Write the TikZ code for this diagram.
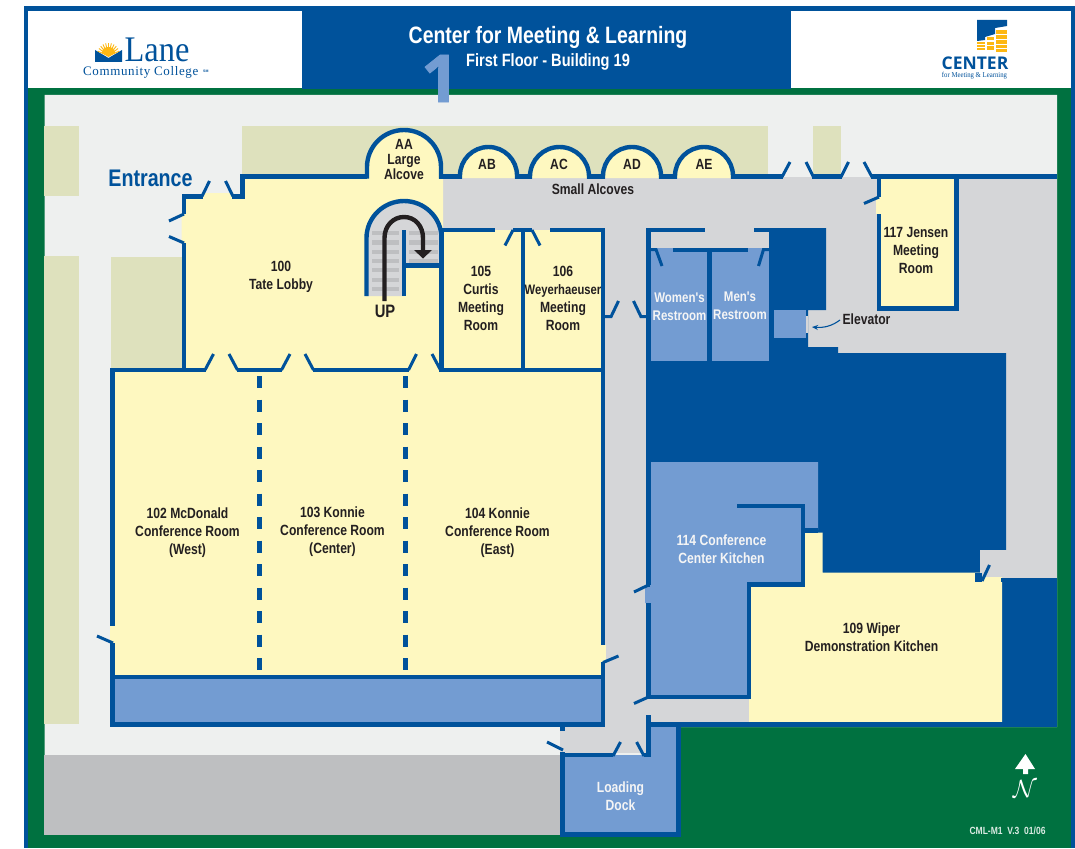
\documentclass[tikz,border=0pt]{standalone}
\usepackage{fontspec}
\setmainfont{Liberation Sans}
\newfontfamily\nar[FakeStretch=0.82]{Liberation Sans}
\newfontfamily\serifnar[FakeStretch=0.9]{Liberation Serif}
\newfontfamily\serifwide[LetterSpace=4.8]{Liberation Serif}
\newfontfamily\onefont[FakeBold=1.2]{Open Sans}
\newfontfamily\ctr{Open Sans}
\usetikzlibrary{arrows.meta}
\definecolor{dk}{HTML}{00529B}
\definecolor{grn}{HTML}{007140}
\definecolor{yel}{HTML}{FEF8C0}
\definecolor{lb}{HTML}{739CD2}
\definecolor{oli}{HTML}{DEE1BD}
\definecolor{lite}{HTML}{EEF0EF}
\definecolor{gry}{HTML}{D5D6D8}
\definecolor{dgry}{HTML}{BEBFC1}
\definecolor{ink}{HTML}{231F20}
\definecolor{gold}{HTML}{FDB813}
\tikzset{
 wall/.style={draw=dk,line width=4.4pt,line join=miter,line cap=butt},
 flap/.style={draw=dk,line width=3pt,line join=miter,line cap=butt},
 lab/.style={inner sep=0pt,align=center,text=ink,font=\nar\bfseries\fontsize{14.8}{18}\selectfont},
 wlab/.style={lab,text=white!96!black},
}
\begin{document}
\begin{tikzpicture}[x=1pt,y=-1pt]
\useasboundingbox (0,0) rectangle (1075,848);
% frame and header
\fill[white] (0,0) rectangle (1075,848);
\fill[dk] (24,6) rectangle (1075,848);
\fill[grn] (28,88) rectangle (1071,848);
\fill[white] (28,11) rectangle (302,88);
\fill[white] (791,11) rectangle (1071,88);
\fill[dk] (302,11) rectangle (791,89.5);
% ground
\fill[lite] (44.5,95) -- (1057,95) -- (1057,727) -- (680,727) -- (680,755) -- (44.5,755) -- cycle;
\fill[dgry] (44,755) rectangle (562,835);
\fill[oli] (44,126) rectangle (79,196);
\fill[oli] (44,256) rectangle (79,724);
\fill[oli] (111,257) rectangle (184,370);
\fill[oli] (242,126) rectangle (768,177);
\fill[oli] (813,126) rectangle (841,177);
% corridors
\fill[gry] (443,176.5) rectangle (1057,578);
\fill[gry] (600,230) rectangle (648,727);
\fill[gry] (559.5,725) rectangle (648,753);
\fill[gry] (648,695) rectangle (752,724);
% dark core
\fill[dk] (769,228) -- (826,228) -- (826,310) -- (808,310) -- (808,347) -- (838,347) -- (838,353) -- (1006,353) -- (1006,550) -- (980,550) -- (980,590) -- (648,590) -- (648,353) -- (769,353) -- cycle;
\fill[gry] (980,550) rectangle (1057,578);
\fill[dk] (1002,578) rectangle (1057,727);
% rooms fills
\fill[yel] (184,196) -- (200,196) -- (205,193) -- (230,193) -- (235,196) -- (242,196) -- (242,177) -- (443,177) -- (443,370) -- (184,370) -- (184,243) -- (181.5,240) -- (181.5,216) -- (184,214) -- cycle;
\fill[yel] (443,230) rectangle (603,370);
\fill[yel] (114,370) rectangle (603,677);
\fill[yel] (109.5,626) rectangle (114,643);
\fill[yel] (603,645) rectangle (606,662);
\fill[yel] (877,178) rectangle (955,307);
\fill[yel] (875.5,197) rectangle (880,214);
\fill[lb] (112,677) rectangle (603,724);
\fill[lb] (651,248) rectangle (707,361);
\fill[lb] (712,248) rectangle (769,361);
\fill[lb] (773.5,310) rectangle (805.5,337.5);
\fill[gry] (805.5,316) rectangle (808,333);
\fill[lb] (650,462) -- (818,462) -- (818,530) -- (804,530) -- (804,586) -- (749,586) -- (749,695) -- (650,695) -- (650,603) -- (645,603) -- (645,587) -- (650,587) -- cycle;
\fill[yel] (749,722) -- (749,585) -- (804,585) -- (804,532.7) -- (822.6,532.7) -- (822.6,572.7) -- (980,572.7) -- (980,577) -- (1002,577) -- (1002,722) -- cycle;
\fill[lb] (562,755) rectangle (677,832);
\fill[lb] (648,725) rectangle (677,757);
% alcove arches
\foreach \a/\b/\t in {367/441/130,460/517/147,530/589/147,603/661/147,675/733/147}{
 \pgfmathsetmacro\xc{(\a+\b)/2}
 \pgfmathsetmacro\rr{(\b-\a)/2}
 \pgfmathsetmacro\sp{\t+\rr}
 \pgfmathsetmacro\k{0.5523*\rr}
 \pgfmathsetmacro\ka{\sp-\k}
 \pgfmathsetmacro\kl{\xc-\k}
 \pgfmathsetmacro\kr{\xc+\k}
 \fill[yel] (\a,178) -- (\a,\sp) .. controls (\a,\ka) and (\kl,\t) .. (\xc,\t) .. controls (\kr,\t) and (\b,\ka) .. (\b,\sp) -- (\b,178) -- cycle;
 \draw[wall] (\a,178.5) -- (\a,\sp) .. controls (\a,\ka) and (\kl,\t) .. (\xc,\t) .. controls (\kr,\t) and (\b,\ka) .. (\b,\sp) -- (\b,178.5);
}
% stairs
\fill[gry] (366,296) -- (366,238) .. controls (366,217) and (384,201) .. (404,201) .. controls (424,201) and (442,217) .. (442,238) -- (442,266) -- (404,266) -- (404,296) -- cycle;
\foreach \y in {231,240.3,249.6,258.9,268.2,277.5,286.8}{\fill[dgry] (372,\y) rectangle (399,\y+4.2);}
\foreach \y in {231,240.3,249.6,258.9}{\fill[dgry] (409,\y) rectangle (438,\y+4.2);}
\draw[wall] (366.5,296) -- (366.5,238) .. controls (366.5,217) and (384,201) .. (404,201) .. controls (424,201) and (441.5,217) .. (441.5,238);
\draw[wall] (404,230) -- (404,296);
\draw[wall] (402,265.5) -- (441,265.5);
\draw[draw=ink,line width=4.4pt] (384.5,301) -- (384.5,238) .. controls (384.5,226) and (393,217) .. (404,217) .. controls (415,217) and (423,226) .. (423,238) -- (423,252);
\fill[ink] (414,250) -- (432,250) -- (423,258.5) -- cycle;
% walls: lobby
\draw[wall] (184,243) -- (184,370);
\draw[wall] (184,214) -- (184,196.3) -- (203,196.3);
\draw[wall] (232,196.3) -- (242.3,196.3) -- (242.3,176.5) -- (367,176.5);
\draw[flap] (184,243) -- (169,236.5);
\draw[flap] (184,214) -- (169,221);
\draw[flap] (202,196.3) -- (209.5,181);
\draw[flap] (225.5,181) -- (233,196.3);
% walls: north
\draw[wall] (439,176.5) -- (462,176.5);
\draw[wall] (515,176.5) -- (532,176.5);
\draw[wall] (587,176.5) -- (605,176.5);
\draw[wall] (659,176.5) -- (677,176.5);
\draw[wall] (731,176.5) -- (783,176.5);
\draw[wall] (812,176.5) -- (842,176.5);
\draw[wall] (871,176.5) -- (1057,176.5);
\draw[flap] (782,177) -- (790,162);
\draw[flap] (806,162) -- (813.5,177);
\draw[flap] (841,177) -- (848.5,162);
\draw[flap] (864,162) -- (872,177);
% room 117
\draw[wall] (879,176) -- (879,197);
\draw[wall] (879,214) -- (879,308.5) -- (956.5,308.5) -- (956.5,176);
\draw[flap] (879,197) -- (864,203.5);
% rooms 105 106
\draw[wall] (441,230) -- (495,230);
\draw[wall] (513,230) -- (532,230);
\draw[wall] (550,230) -- (603,230) -- (603,645);
\draw[wall] (523,230) -- (523,370);
\draw[flap] (513,230) -- (505,245.5);
\draw[flap] (532,230) -- (540,245.5);
\draw[wall] (441.5,230) -- (441.5,372);
\draw[wall] (603,662) -- (603,727);
\draw[flap] (603,662.5) -- (618.5,656);
\draw[flap] (603,316.7) -- (611,316.7) -- (618.5,301);
\draw[flap] (633.5,301) -- (641,316.7) -- (648,316.7);
% conference rooms
\draw[wall] (110.3,370) -- (206,370);
\draw[wall] (237,370) -- (282,370);
\draw[wall] (313,370) -- (409,370);
\draw[wall] (440,370) -- (605,370);
\draw[flap] (205,370) -- (213.5,354);
\draw[flap] (229,354) -- (237.5,370);
\draw[flap] (281.5,370) -- (290,354);
\draw[flap] (305,354) -- (313.5,370);
\draw[flap] (408.5,370) -- (416.5,354);
\draw[flap] (432,354) -- (440.5,370);
\draw[wall] (112.5,368) -- (112.5,626);
\draw[wall] (112.5,643) -- (112.5,727);
\draw[flap] (113,643) -- (97,636);
\draw[wall] (110.3,677) -- (605,677);
\draw[wall] (110.3,724.5) -- (605,724.5);
\draw[draw=dk,line width=5pt,dash pattern=on 12pt off 11.5pt] (259,376) -- (259,675);
\draw[draw=dk,line width=5pt,dash pattern=on 12pt off 11.5pt] (405.5,376) -- (405.5,675);
% restrooms
\draw[wall] (648.5,228) -- (648.5,355);
\draw[wall] (646.5,230) -- (705,230);
\draw[wall] (754,230) -- (770,230);
\draw[wall] (673,250) -- (748,250);
\draw[wall] (709.5,250) -- (709.5,361);
\draw[flap] (650,249.5) -- (656,249.5) -- (662,266);
\draw[flap] (769,249.5) -- (763.5,249.5) -- (758.5,266);
% kitchen 114
\draw[wall] (648.5,355) -- (648.5,585);
\draw[wall] (648.5,603) -- (648.5,697) -- (751,697);
\draw[wall] (737,506) -- (802.7,506) -- (802.7,584.5) -- (749,584.5) -- (749,699);
\fill[dk] (805,528) rectangle (818,532.7);
\draw[flap] (648.5,585) -- (634,592);
\draw[flap] (648.5,697) -- (634,703.5);
% kitchen 109 / bottom wall
\fill[dk] (975,572.7) rectangle (982,582);
\fill[dk] (1001,578) rectangle (1006,582);
\draw[flap] (982,581) -- (989.5,565);
\draw[wall] (646.3,724.5) -- (1057,724.5);
% loading dock
\draw[wall] (648.5,715) -- (648.5,757);
\draw[wall] (613,755) -- (562.5,755);
\draw[wall] (562.5,752) -- (562.5,834.5) -- (678.5,834.5) -- (678.5,724);
\draw[wall] (562.5,725) -- (562.5,731);
\draw[wall] (644,755) -- (650.7,755);
\draw[flap] (563,750) -- (547,742);
\draw[flap] (613,756) -- (620.5,742);
\draw[flap] (644,756) -- (636.6,742);
% elevator arrow
\draw[draw=dk,line width=1.1pt,-{Stealth[length=6pt,width=5pt]}] (840,320) .. controls (832,326) and (824,328) .. (812,327);
% big 1
\node[inner sep=0pt,text=lb,font=\onefont\bfseries\fontsize{66}{66}\selectfont] (one) at (440,78.5) {1};
% header text
\node[inner sep=0pt,text=white,font=\nar\bfseries\fontsize{23.7}{26}\selectfont] (title) at (548,37.5) {Center for Meeting \& Learning};
\node[inner sep=0pt,text=white,font=\nar\bfseries\fontsize{17.8}{20}\selectfont] (sub) at (548,62) {First Floor - Building 19};
% Lane logo
\fill[dk] (95,50) -- (108.5,58) -- (122,50) -- (122,62) -- (95,62) -- cycle;
\foreach \a in {15,30,...,165}{\draw[gold,line width=.9pt] (108.5,56) -- ({108.5+11*cos(\a)},{54-11*sin(\a)});}
\fill[gold] (102,53) .. controls (102,49) and (105,47) .. (108.5,47) .. controls (112,47) and (115,49) .. (115,53) -- (108.5,57) -- cycle;
\node[inner sep=0pt,text=dk,font=\serifnar\fontsize{36}{37}\selectfont,anchor=base west] (lane) at (124.5,62) {Lane};
\node[inner sep=0pt,text=dk,font=\serifwide\fontsize{13}{13}\selectfont,anchor=base west] (comm) at (83,75.5) {Community College};
\node[inner sep=0pt,text=dk,font=\fontsize{3.5}{4}\selectfont\bfseries,anchor=west] (sm) at (203,71) {SM};
% Center logo
\fill[dk] (977,20) -- (1007,20) -- (1007,26) -- (995,28) -- (995,34) -- (985,37) -- (985,40) -- (977,41) -- cycle;
\foreach \xa/\xb/\ya/\yb in {996/1007/30/34,996/1007/35/39,996/1007/40/44,996/1007/45/48,996/1007/49/52,987/994/37.5/40.5,987/994/42/45,987/994/46.5/50.5,977/985/42/44,977/985/45/47,977/985/48/50.5}{\fill[gold] (\xa,\ya) rectangle (\xb,\yb);}
\node[inner sep=0pt,text=dk,font=\ctr\bfseries\fontsize{17.5}{18}\selectfont] (center) at (975,63.5) {CENTER};
\node[inner sep=0pt,text=dk,font=\serifnar\fontsize{7.5}{8}\selectfont] (cfml) at (974.5,75.5) {for Meeting \& Learning};
% labels
\node[inner sep=0pt,text=dk,font=\nar\bfseries\fontsize{24}{26}\selectfont] (ent) at (150.5,178) {Entrance};
\node[lab] (aa) at (404,159.5) {AA\\[-3pt]Large\\[-3pt]Alcove};
\node[lab] (ab) at (487,164.5) {AB};
\node[lab] (ac) at (559,164.5) {AC};
\node[lab] (ad) at (632,164.5) {AD};
\node[lab] (ae) at (704,164.5) {AE};
\node[lab] (sa) at (593,189.5) {Small Alcoves};
\node[lab] (r100) at (281,276.5) {100\\Tate Lobby};
\node[lab,font=\nar\bfseries\fontsize{18}{20}\selectfont] (up) at (385,311) {UP};
\node[lab] (r105) at (481,298.5) {105\\Curtis\\Meeting\\Room};
\node[lab] (r106) at (563,298.5) {106\\{\fontsize{13.7}{18}\selectfont Weyerhaeuser}\\Meeting\\Room};
\node[wlab,font=\nar\bfseries\fontsize{14}{18}\selectfont] (rw) at (679.5,306.5) {Women's\\Restroom};
\node[wlab,font=\nar\bfseries\fontsize{14}{18}\selectfont] (rm) at (740,306) {Men's\\Restroom};
\node[lab] (r117) at (916,250.5) {117 Jensen\\Meeting\\Room};
\node[lab] (elev) at (866.5,319.5) {Elevator};
\node[lab] (r102) at (187.5,532.5) {102 McDonald\\Conference Room\\(West)};
\node[lab] (r103) at (332.5,531.5) {103 Konnie\\Conference Room\\(Center)};
\node[lab] (r104) at (497.5,532.5) {104 Konnie\\Conference Room\\(East)};
\node[wlab] (r114) at (721.5,549) {114 Conference\\Center Kitchen};
\node[lab] (r109) at (871.5,637.5) {109 Wiper\\Demonstration Kitchen};
\node[wlab] (dock) at (620.5,796) {Loading\\Dock};
% north arrow
\fill[white] (1015,769) -- (1025.5,754) -- (1035,769) -- (1028,769) -- (1028,774) -- (1023,774) -- (1023,769) -- cycle;
\node[inner sep=0pt,text=white] (north) at (1025,789) {\fontsize{25}{28}\selectfont$\mathcal{N}$};
\node[inner sep=0pt,text=white!85!grn,font=\nar\bfseries\fontsize{10.4}{12}\selectfont] (ver) at (1007.5,830.5) {CML-M1\ \ V.3\ \ 01/06};
\end{tikzpicture}
\end{document}
